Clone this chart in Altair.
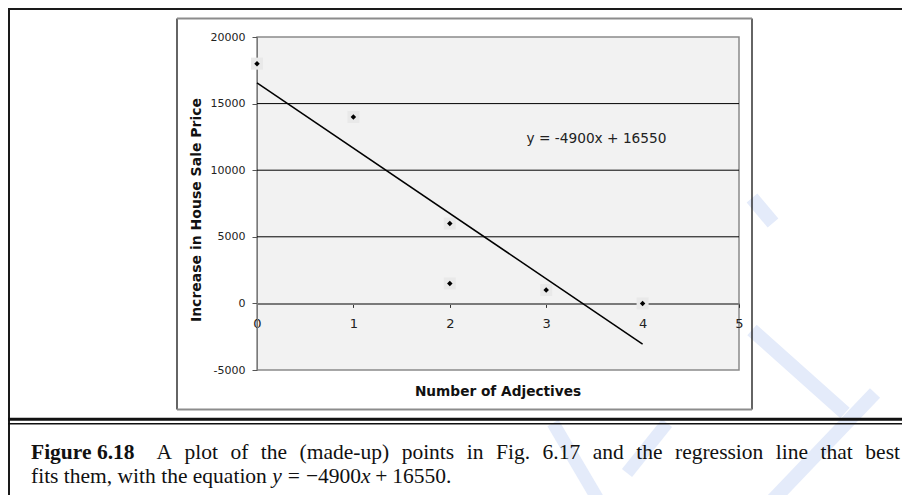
import altair as alt
import pandas as pd

# ---------------- data ----------------
adjectives = [0, 1, 2, 2, 3, 4]
price_increase = [18000, 14000, 6000, 1500, 1000, 0]
slope = -4900
intercept = 16550
fit_x = [0, 4]
x_ticks = [0, 1, 2, 3, 4, 5]
y_ticks = [-5000, 0, 5000, 10000, 15000, 20000]
grid_values = [5000, 10000, 15000]
x_title = "Number of Adjectives"
y_title = "Increase in House Sale Price"
equation = "y = -4900x + 16550"
caption_label = "Figure 6.18"
caption_line1 = "A plot of the (made-up) points in Fig. 6.17 and the regression line that best"
caption_line2 = "fits them, with the equation"
math_pieces = ["y", "=", "\u22124900", "x", "+", "16550."]

points = pd.DataFrame({"x": adjectives, "y": price_increase})
fit = pd.DataFrame({"x": fit_x, "y": [slope * v + intercept for v in fit_x]})
grid = pd.DataFrame({"y": grid_values})

W, H = 482, 333
xs = alt.Scale(domain=[0, 5], nice=False, zero=False)
ys = alt.Scale(domain=[-5000, 20000], nice=False, zero=False)

SANS = "DejaVu Sans"
SERIF = "Liberation Serif"

x_axis = alt.Axis(values=x_ticks, offset=-H * 5000 / 25000, title=None, grid=False,
                  domainColor="#7a7a7a", domainWidth=2, tickColor="#333", tickSize=4,
                  labelFont=SANS, labelFontSize=13, labelColor="#222", labelPadding=16,
                  labelBaseline="middle", labelAngle=0, labelFlush=False, labelOverlap=False,
                  labelExpr="'' + datum.value")
y_axis = alt.Axis(values=y_ticks, title=None, grid=False, domainColor="#7a7a7a",
                  tickColor="#555", tickSize=5, labelFont=SANS, labelFontSize=11,
                  labelColor="#222", labelPadding=7, labelExpr="'' + datum.value",
                  labelFlush=False, labelOverlap=False)


def seg(x1, y1, x2, y2, color, width):
    return alt.Chart().mark_rule(color=color, strokeWidth=width, strokeCap="butt").encode(
        x=alt.value(x1), y=alt.value(y1), x2=alt.value(x2), y2=alt.value(y2))


def txt(t, x, y, **kw):
    return alt.Chart().mark_text(text=t, **kw).encode(x=alt.value(x), y=alt.value(y))


# Times (Liberation Serif) advance widths in em, for placing caption words
REG = {" ": .25, "A": .722, "(": .333, ")": .333, "-": .333, ".": .25, ",": .25,
       "F": .556, "a": .444, "b": .5, "d": .5, "e": .444, "f": .333, "g": .5, "h": .5,
       "i": .278, "l": .278, "m": .778, "n": .5, "o": .5, "p": .5, "q": .5, "r": .333,
       "s": .389, "t": .278, "u": .5, "w": .722, "=": .564, "+": .564, "\u2212": .564,
       "x": .444, "y": .444}
BOLD = {"F": .611, "i": .278, "g": .5, "u": .556, "r": .444, "e": .444, " ": .25, ".": .25}


def width(s, table, fs):
    return sum(table.get(c, .5) for c in s) * fs


BLUE = "#e4ebfa"
watermark = [
    seg(495, 161, 516, 186, BLUE, 14),
    seg(495, 293, 588, 376, BLUE, 14),
    seg(618, 356, 513, 466, BLUE, 14),
    seg(296, 386, 343, 466, BLUE, 13),
    seg(410, 386, 370, 436, BLUE, 13),
]

frame = [
    seg(-249, -28, 645, -28, "#1a1a1a", 2),
    seg(-248, -29, -248, 458, "#1a1a1a", 2),
    seg(-249, 382.2, 645, 382.2, "#111", 3),
    seg(-249, 386.7, 645, 386.7, "#111", 1.5),
    # chart box
    seg(-80, -18.5, -80, 372.5, "#111", 1.3),
    seg(495, -18.5, 495, 372.5, "#111", 1.3),
    seg(-80, -18.5, 495, -18.5, "#8c8c8c", 2),
    seg(-80, 372.5, 495, 372.5, "#8c8c8c", 2),
]

gridlines = alt.Chart(grid).mark_rule(color="black", strokeWidth=1).encode(
    y=alt.Y("y:Q", scale=ys, axis=y_axis))

bg = alt.Chart(points).mark_point(shape="square", filled=True, size=144, color="#e9e9e9",
                                  opacity=1).encode(
    x=alt.X("x:Q", scale=xs, axis=x_axis), y=alt.Y("y:Q", scale=ys, axis=y_axis))
dots = alt.Chart(points).mark_point(shape="diamond", filled=True, size=30, color="black",
                                    opacity=1).encode(
    x=alt.X("x:Q", scale=xs, axis=x_axis), y=alt.Y("y:Q", scale=ys, axis=y_axis))
line = alt.Chart(fit).mark_line(color="black", strokeWidth=1.5).encode(
    x=alt.X("x:Q", scale=xs, axis=x_axis), y=alt.Y("y:Q", scale=ys, axis=y_axis))

labels = [
    txt(equation, 339.5, 102, font=SANS, fontSize=13.7, color="#222", align="center",
        baseline="middle"),
    txt(x_title, 241, 355, font=SANS, fontSize=13.7, fontWeight="bold", color="#111",
        align="center", baseline="middle"),
    txt(y_title, -60, 173, font=SANS, fontSize=14, fontWeight="bold", color="#111",
        align="center", baseline="middle", angle=270),
]

FS = 21.5
LEFT, RIGHT = -226, 643
Y1, Y2 = 422, 446
cap_style = dict(font=SERIF, fontSize=FS, color="#111", align="left", baseline="alphabetic")
cap = [txt(caption_label, LEFT, Y1, fontWeight="bold", **cap_style)]
# justified first line
words = caption_line1.split(" ")
start = LEFT + width(caption_label, BOLD, FS) + 1.0 * FS
natural = sum(width(w, REG, FS) for w in words)
gap = (RIGHT - start - natural) / (len(words) - 1)
xpos = start
for w in words:
    cap.append(txt(w, xpos, Y1, **cap_style))
    xpos += width(w, REG, FS) + gap
# second line, natural width with math spacing
cap.append(txt(caption_line2, LEFT, Y2, **cap_style))
xpos = LEFT + width(caption_line2 + " ", REG, FS)
spacing_after = [.278, .278, 0, .222, .222, 0]
for piece, sp in zip(math_pieces, spacing_after):
    italic = piece in ("x", "y")
    cap.append(txt(piece, xpos, Y2, fontStyle="italic" if italic else "normal", **cap_style))
    xpos += width(piece, REG, FS) + sp * FS

chart = alt.layer(
    *watermark, *frame, bg, gridlines, dots, line, *labels, *cap
).properties(
    width=W, height=H,
    padding={"left": 249, "top": 29, "right": 163, "bottom": 125},
    autosize=alt.AutoSizeParams(type="none"),
    background="white",
).configure_view(fill="#f2f2f2", stroke="#8a8a8a", strokeWidth=1.5)

chart.save("out.html", embed_options={"renderer": "svg", "actions": False})
